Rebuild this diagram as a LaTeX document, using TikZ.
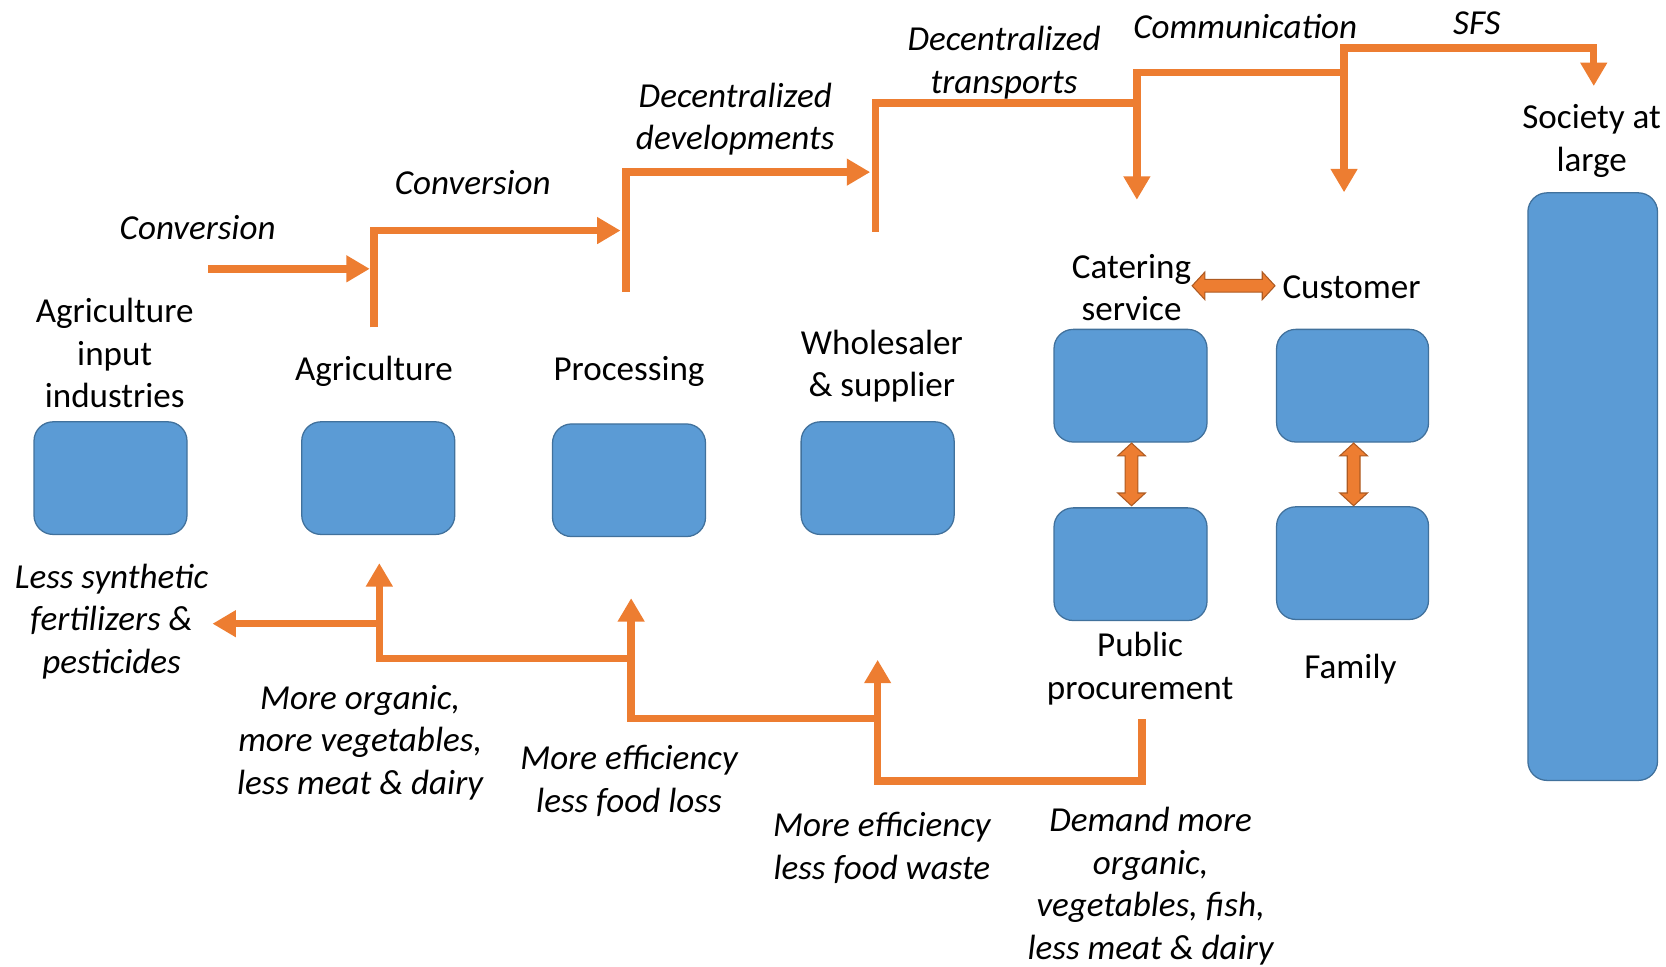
\documentclass[tikz,border=0pt]{standalone}
\usepackage{fontspec}
\setmainfont{Carlito}
\usetikzlibrary{arrows.meta}
\definecolor{boxblue}{HTML}{5B9BD5}
\definecolor{boxedge}{HTML}{41719C}
\definecolor{arrorange}{HTML}{ED7D31}
\definecolor{arredge}{HTML}{AE5A21}
\newcommand\hdblarrow[3]{\draw[dbl] (#1,#3) -- (#1+12,#3-13) -- (#1+12,#3-6) -- (#2-12,#3-6) -- (#2-12,#3-13) -- (#2,#3) -- (#2-12,#3+13) -- (#2-12,#3+6) -- (#1+12,#3+6) -- (#1+12,#3+13) -- cycle;}
\newcommand\vdblarrow[3]{\draw[dbl] (#3,#1) -- (#3-13,#1+12) -- (#3-6,#1+12) -- (#3-6,#2-12) -- (#3-13,#2-12) -- (#3,#2) -- (#3+13,#2-12) -- (#3+6,#2-12) -- (#3+6,#1+12) -- (#3+13,#1+12) -- cycle;}
\begin{document}
\begin{tikzpicture}[x=1pt,y=-1pt,
  blk/.style={draw=boxedge, line width=1.2pt, fill=boxblue, rounded corners=18pt, inner sep=0pt},
  lbl/.style={font=\fontsize{33}{40}\selectfont, align=center, inner sep=0pt, yshift=-2.5pt},
  ilbl/.style={font=\fontsize{33}{40}\selectfont\itshape, align=center, inner sep=0pt, yshift=-2pt},
  flow/.style={draw=arrorange, line width=7pt},
  flowarr/.style={flow, -{Triangle[length=22pt,width=24pt]}},
  flowtwo/.style={flow, {Triangle[length=22pt,width=24pt]}-{Triangle[length=22pt,width=24pt]}},
  flowstart/.style={flow, {Triangle[length=22pt,width=24pt]}-},
  dbl/.style={fill=arrorange, draw=arredge, line width=1pt}]
\useasboundingbox (0,0) rectangle (1568,910);

% boxes
\node[blk, minimum width=144, minimum height=106] (b1) at (104,450) {};
\node[blk, minimum width=144, minimum height=106] (b2) at (356,450) {};
\node[blk, minimum width=144, minimum height=106] (b3) at (592,452) {};
\node[blk, minimum width=144, minimum height=106] (b4) at (826,450) {};
\node[blk, minimum width=144, minimum height=106] (b5) at (1064,363) {};
\node[blk, minimum width=144, minimum height=106] (b6) at (1064,531) {};
\node[blk, minimum width=143, minimum height=106] (b7) at (1273,363) {};
\node[blk, minimum width=143, minimum height=106] (b8) at (1273,530) {};
\node[blk, minimum width=122, minimum height=553] (b9) at (1499,458) {};

% labels
\node[lbl] (t1) at (108,330) {Agriculture\\input\\industries};
\node[lbl] (t2) at (352,347) {Agriculture};
\node[lbl] (t3) at (592,347) {Processing};
\node[lbl] (t4) at (830,342) {Wholesaler\\\& supplier};
\node[lbl] (t5) at (1065,268) {Catering\\service};
\node[lbl] (t6) at (1272,268) {Customer};
\node[lbl] (t7) at (1498,130) {Society at\\large};
\node[lbl] (t8) at (1073,627) {Public\\procurement};
\node[lbl] (t9) at (1271,627) {Family};

% italic labels
\node[ilbl] (i1) at (186,212) {Conversion};
\node[ilbl] (i2) at (445,170) {Conversion};
\node[ilbl] (i3) at (692,110) {Decentralized\\developments};
\node[ilbl] (i4) at (945,57) {Decentralized\\transports};
\node[ilbl] (i5) at (1172,23) {Communication};
\node[ilbl] (i6) at (1390,20) {SFS};
\node[ilbl] (i7) at (105,583) {Less synthetic\\fertilizers \&\\pesticides};
\node[ilbl] (i8) at (339,697) {More organic,\\more vegetables,\\less meat \& dairy};
\node[ilbl] (i9) at (592,733) {More efficiency\\less food loss};
\node[ilbl] (i10) at (830,796) {More efficiency\\less food waste};
\node[ilbl, yshift=3pt] (i11) at (1083,835) {Demand more\\organic,\\vegetables, fish,\\less meat \& dairy};

% top flows
\coordinate (f0) at (196,253);
\coordinate (f1a) at (352,308);
\coordinate (f2a) at (589,275);
\coordinate (f3a) at (824,218);
\coordinate (f4a) at (1070,188);
\coordinate (f5a) at (1265,181);
\coordinate (f5b) at (1500,81);
\draw[flowarr] (f0) -- (348,253);
\draw[flowarr] (f1a) -- (352,217) -- (584,217);
\draw[flowarr] (f2a) -- (589,162) -- (819,162);
\draw[flow] (f3a) -- (824,97) -- (1070,97);
\draw[flowstart] (f4a) -- (1070,68) -- (1265,68);
\draw[flowtwo] (f5a) -- (1265,45) -- (1500,45) -- (f5b);

% bottom flows
\coordinate (g0) at (1075,677);
\draw[flowarr] (g0) -- (1075,735) -- (826,735) -- (826,621);
\draw[flowarr] (826,676) -- (594,676) -- (594,563);
\draw[flowarr] (594,620) -- (357,620) -- (357,530);
\draw[flowarr] (357,587) -- (200,587);

% double arrows
\hdblarrow{1122}{1200}{269}
\vdblarrow{417}{476}{1065}
\vdblarrow{417}{476}{1274}
\end{tikzpicture}
\end{document}
